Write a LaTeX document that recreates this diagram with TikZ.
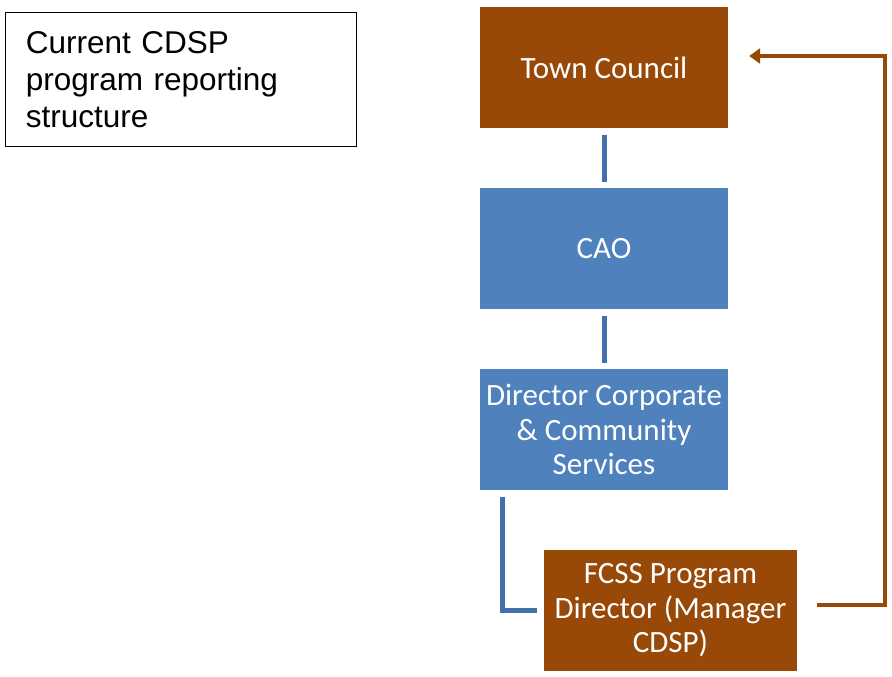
\documentclass[tikz,border=0pt]{standalone}
\usepackage{fontspec}
\setmainfont{Carlito}
\newfontfamily\arialfont{Liberation Sans}
\usetikzlibrary{arrows.meta}
\definecolor{brownbox}{HTML}{984807}
\definecolor{bluebox}{HTML}{4F81BD}
\definecolor{blueconn}{HTML}{4270AB}
\begin{document}
\begin{tikzpicture}[x=1pt,y=-1pt,
  orgbox/.style={rectangle, inner sep=0pt, minimum width=248pt, minimum height=121pt,
    text=white, align=center, font=\fontsize{31}{34.5}\selectfont},
  brownfill/.style={orgbox, fill=brownbox},
  bluefill/.style={orgbox, fill=bluebox},
  blueline/.style={draw=blueconn, line width=5pt},
  brownline/.style={draw=brownbox, line width=4pt}]
\useasboundingbox (0,0) rectangle (892,677);
\node[draw=black, line width=0.9pt, anchor=north west, minimum width=351pt, minimum height=134pt,
  inner xsep=20pt, text width=310pt, align=left,
  font=\arialfont\fontsize{31.5}{37}\selectfont] (title) at (5,12)
  {Current CDSP\\program reporting\\structure};
\node[brownfill] (tc) at (604,67.5) {Town Council};
\node[bluefill] (cao) at (604,248.5) {CAO};
\node[bluefill] (dir) at (604,429.5) {Director Corporate\\\& Community\\Services};
\node[brownfill, minimum width=253pt] (fcss) at (670.5,610.5) {FCSS Program\\Director (Manager\\CDSP)};
\draw[blueline, shorten <=7pt, shorten >=6pt] (tc.south) -- (cao.north);
\draw[blueline, shorten <=7pt, shorten >=6pt] (cao.south) -- (dir.north);
\coordinate (dl) at (502,610);
\draw[blueline] ([xshift=-102pt,yshift=-7pt]dir.south) -- (dl) -- ([xshift=-7pt]fcss.west |- dl);
\coordinate (rb) at (885,605);
\coordinate (rt) at (885,56);
\draw[brownline, -{Triangle[length=11pt,width=15pt]}] ([xshift=20pt]fcss.east |- rb) -- (rb) -- (rt) -- ([xshift=21pt]tc.east |- rt);
\end{tikzpicture}
\end{document}
